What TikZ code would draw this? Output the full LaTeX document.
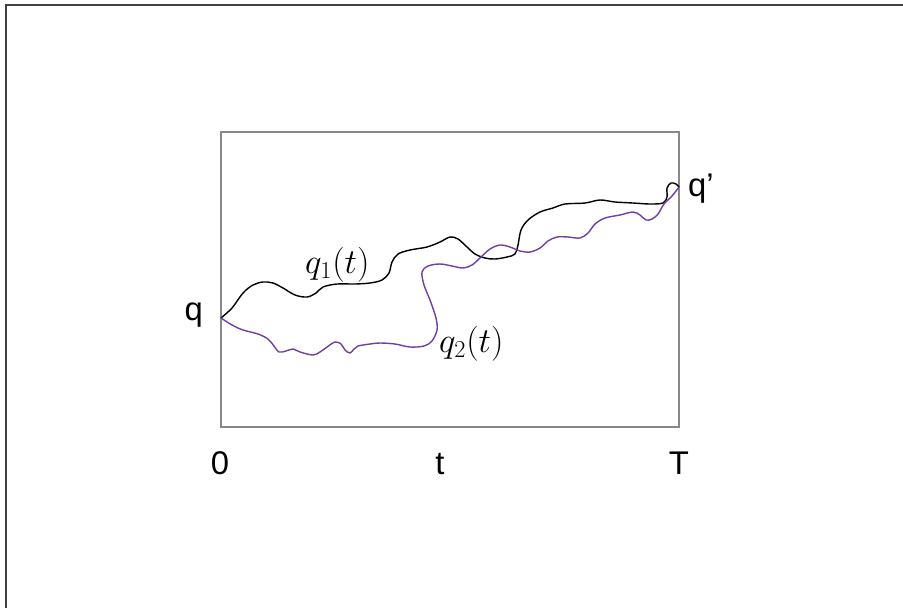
\documentclass[tikz,border=0pt]{standalone}
\usepackage{fontspec}
\setmainfont{Liberation Sans}
\usepackage{xcolor}
\usepackage{graphicx}
\usepackage{tikz}
\usetikzlibrary{positioning}
\definecolor{pathpurple}{RGB}{112,64,160}
\definecolor{boxgray}{RGB}{136,136,136}
\definecolor{edgegray}{RGB}{64,64,64}
\newcommand{\biglabel}[1]{\scalebox{1.2}{$#1$}}

\begin{document}
\begin{tikzpicture}[
  x=0.03cm, y=-0.03cm,
  lbl/.style={inner sep=0pt,font=\fontsize{28}{32}\selectfont},
  mlbl/.style={inner sep=0pt,font=\fontsize{24}{28}\selectfont},
  walk/.style={line width=1.2pt,smooth,tension=0.55,line join=round}
]
\useasboundingbox (0,0) rectangle (903,608);
\draw[edgegray,line width=1.5pt] (6,608) -- (6,5) -- (903,5);
\draw[boxgray,line width=1.3pt] (221,132) rectangle (679,427);
\coordinate (qa) at (221,318);
\coordinate (qb) at (679,187);
\node[lbl,anchor=base east] (q) at (203,320) {q};
\node[lbl,anchor=base west] (qp) at (688,196) {q'};
\node[lbl,anchor=base] (zero) at (220,474) {0};
\node[lbl,anchor=base] (tmid) at (440,474) {t};
\node[lbl,anchor=base] (tend) at (679,474) {T};
\node[mlbl,anchor=base west] (qone) at (305,273) {\biglabel{q_1(t)}};
\node[mlbl,anchor=base west] (qtwo) at (439,352) {\biglabel{q_2(t)}};
% first path
\draw[walk,black] plot coordinates {(qa) (232,308) (243,293) (253,285) (263,282)
  (273,283) (283,288) (295,295) (307,297) (316,293) (323,287) (337,284) (355,284)
  (370,283) (382,280) (389,273) (392,262) (398,254) (410,250) (427,247) (440,242)
  (450,237) (458,239) (467,247) (475,254) (485,258) (495,259) (507,257) (515,254)
  (518,245) (521,230) (528,220) (540,212) (553,208) (565,204) (585,203) (600,200)
  (615,202) (633,203) (650,204) (663,203) (667,197) (667,188) (671,183) (676,184)
  (qb)};
% second path
\draw[walk,pathpurple] plot coordinates {(qa) (232,325) (243,330) (258,334) (268,339)
  (274,346) (279,352) (286,351) (293,349) (300,352) (313,355) (320,352) (327,347)
  (335,342) (341,344) (345,350) (350,353) (354,349) (358,346) (370,344) (380,343)
  (395,344) (410,347) (424,346) (432,341) (437,330) (436,318) (430,300) (424,285)
  (422,272) (428,266) (440,264) (452,266) (463,268) (472,265) (480,258) (490,249)
  (500,245) (510,247) (520,251) (530,252) (540,248) (548,241) (557,237) (568,237)
  (580,238) (588,233) (595,224) (605,218) (620,215) (633,212) (640,215) (646,220)
  (652,219) (658,214) (664,204) (672,196) (qb)};
\end{tikzpicture}
\end{document}
